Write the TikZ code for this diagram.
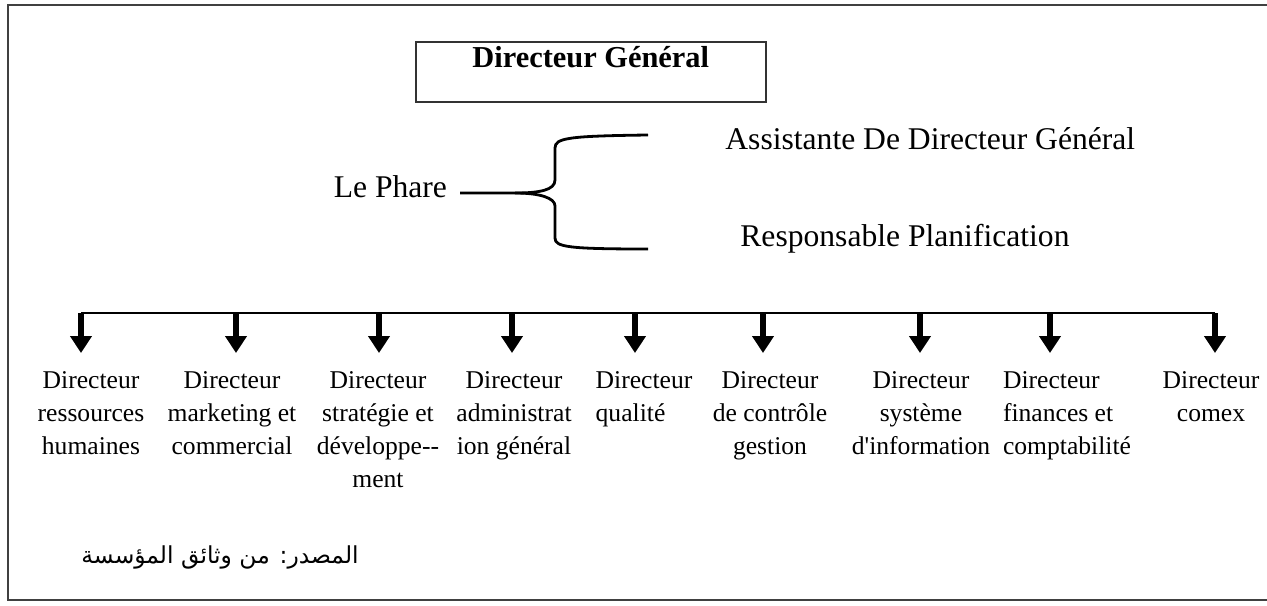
\documentclass[tikz,border=0pt]{standalone}
\usepackage{fontspec}
\setmainfont{Liberation Serif}
\newfontfamily\arabicfont[Script=Arabic]{DejaVu Sans}
\TeXXeTstate=1
\usetikzlibrary{arrows.meta}
\tikzset{
    tnode/.style = {align=center, inner sep=0pt, text centered},
    boss/.style = {draw=black!80, line width=0.8pt, minimum width=175pt, inner sep=0pt, text height=13pt, text depth=17pt, font=\fontsize{15.2}{18}\selectfont\bfseries},
    staff/.style = {inner sep=0pt, font=\fontsize{15.8}{19}\selectfont},
    dept/.style = {tnode, anchor=north, outer ysep=9.5pt, font=\fontsize{12.8}{16.5}\selectfont},
    ldept/.style = {dept, align=left},
    src/.style = {inner sep=0pt, font=\arabicfont\fontsize{11.7}{14}\selectfont},
    bus/.style = {line width=1.3pt},
    down/.style = {line width=2.8pt, -{Triangle[width=10.5pt,length=8.5pt]}},
    brace/.style = {line width=1.4pt},
    frame/.style = {line width=1.1pt, black!75}
}

\begin{document}
\begin{tikzpicture}[x=0.5pt, y=-0.5pt]
    \useasboundingbox (0,0) rectangle (1267,605);
    \draw[frame] (1275,5) -- (8,5) -- (8,600) -- (1275,600);

    \node[boss, anchor=north west] (dg) at (415,41) {Directeur Général};

    \node[staff, anchor=east, outer xsep=6.5pt] (phare) at (460,187) {Le Phare};
    \node[staff, anchor=west] (assist) at (725,139) {Assistante De Directeur Général};
    \node[staff, anchor=west] (plan) at (740,239) {Responsable Planification};

    \coordinate (fork) at (515,193);
    \coordinate (bt) at (648,135);
    \coordinate (bb) at (648,249);
    \draw[brace] (phare.east |- fork) -- (fork) .. controls (540,193) and (555,190) .. (555,180)
        -- (555,148) .. controls (555,138) and (568,136) .. (bt);
    \draw[brace] (fork) .. controls (540,193) and (555,198) .. (555,206)
        -- (555,238) .. controls (555,247) and (568,249) .. (bb);

    \foreach \n/\x in {1/81, 2/236, 3/379, 4/512, 5/635, 6/763, 7/920, 8/1050, 9/1215}
        \coordinate (b\n) at (\x,313);
    \draw[bus] (b1) -- (b9);

    \node[dept] (d1) at (91,353) {Directeur\\ressources\\humaines};
    \node[dept] (d2) at (232,353) {Directeur\\marketing et\\commercial};
    \node[dept] (d3) at (378,353) {Directeur\\stratégie et\\développe-{}-\\ment};
    \node[dept] (d4) at (514,353) {Directeur\\administrat\\ion général};
    \node[ldept] (d5) at (644,353) {Directeur\\qualité};
    \node[dept] (d6) at (770,353) {Directeur\\de contrôle\\gestion};
    \node[dept] (d7) at (921,353) {Directeur\\système\\d\textquotesingle information};
    \node[ldept] (d8) at (1067,353) {Directeur\\finances et\\comptabilité};
    \node[dept] (d9) at (1211,353) {Directeur\\comex};

    \foreach \n in {1,...,9}
        \draw[down] (b\n) -- (b\n |- d\n.north);

    \node[src] (source) at (220,557) {\beginR المصدر: من وثائق المؤسسة\endR};
\end{tikzpicture}
\end{document}
